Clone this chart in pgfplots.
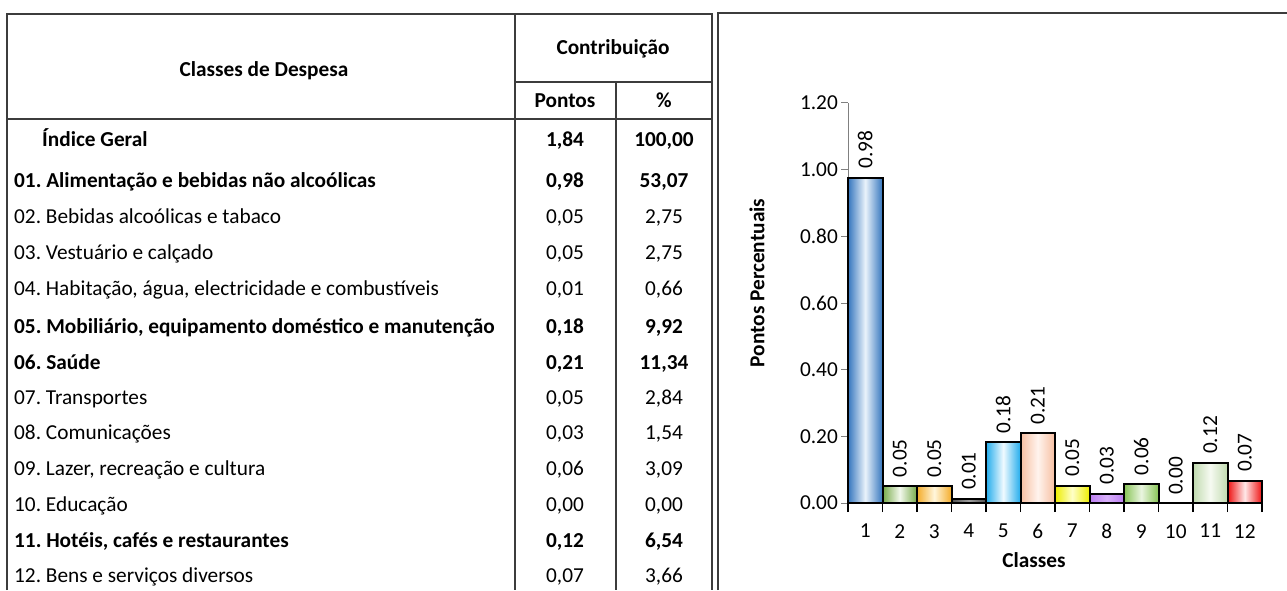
\documentclass[border=0pt]{standalone}
\usepackage{pgfplots}
\pgfplotsset{compat=1.18}
\usepackage{fontspec}
\setmainfont{Carlito}
\newcommand\fs{\fontsize{21.3}{25}\selectfont}
\definecolor{ln}{HTML}{3C3C3C}
\definecolor{c1}{HTML}{3576BE}\definecolor{m1}{HTML}{EAF3FB}
\definecolor{c2}{HTML}{76AA48}\definecolor{m2}{HTML}{F2F8EC}
\definecolor{c3}{HTML}{F4AC2A}\definecolor{m3}{HTML}{FFF6DC}
\definecolor{c4}{HTML}{505050}\definecolor{m4}{HTML}{A0A0A0}
\definecolor{c5}{HTML}{22ACEC}\definecolor{m5}{HTML}{F0FAFF}
\definecolor{c6}{HTML}{F7BEA0}\definecolor{m6}{HTML}{FFF4EE}
\definecolor{c7}{HTML}{EDED00}\definecolor{m7}{HTML}{FFFFC8}
\definecolor{c8}{HTML}{BC7EF2}\definecolor{m8}{HTML}{D8B0FA}
\definecolor{c9}{HTML}{88C456}\definecolor{m9}{HTML}{EAF5E0}
\definecolor{c11}{HTML}{C0DAAE}\definecolor{m11}{HTML}{F6FAF2}
\definecolor{c12}{HTML}{EE1111}\definecolor{m12}{HTML}{FFE8E8}
\newcommand\row[4]{%
  \node[anchor=base west] at (14,{583.5-#1}) {#2};
  \node[anchor=base] at (565,{583.5-#1}) {#3};
  \node[anchor=base] at (664,{583.5-#1}) {#4};}
\newcommand\brow[4]{%
  \node[anchor=base west,font=\fs\bfseries] at (14,{583.5-#1}) {#2};
  \node[anchor=base,font=\fs\bfseries] at (565,{583.5-#1}) {#3};
  \node[anchor=base,font=\fs\bfseries] at (664,{583.5-#1}) {#4};}
\begin{document}
\frenchspacing
\begin{tikzpicture}[x=1pt,y=1pt,every node/.style={inner sep=0pt,font=\fs}]
\useasboundingbox (0,0) rectangle (1287,590);
% table lines
\begin{scope}[draw=ln,line width=2pt]
\draw (7,0) -- (7,576) -- (712,576) -- (712,0);
\draw (515,576) -- (515,0);
\draw (616,508) -- (616,0);
\draw (515,508) -- (712,508);
\draw (7,471) -- (712,471);
\draw (718,0) -- (718,577) -- (1287,577);
\end{scope}
% header
\node[anchor=base,font=\fs\bfseries] at (264,{583.5-70}) {Classes de Despesa};
\node[anchor=base,font=\fs\bfseries] at (613,{583.5-48}) {Contribuição};
\node[anchor=base,font=\fs\bfseries] at (565,{583.5-101}) {Pontos};
\node[anchor=base,font=\fs\bfseries] at (664,{583.5-101}) {\%};
% rows
\node[anchor=base west,font=\fs\bfseries] at (42,{583.5-140}) {Índice Geral};
\node[anchor=base,font=\fs\bfseries] at (565,{583.5-140}) {1,84};
\node[anchor=base,font=\fs\bfseries] at (664,{583.5-140}) {100,00};
\brow{181}{01. Alimentação e bebidas não alcoólicas}{0,98}{53,07}
\row{217}{02. Bebidas alcoólicas e tabaco}{0,05}{2,75}
\row{253}{03. Vestuário e calçado}{0,05}{2,75}
\row{289}{04. Habitação, água, electricidade e combustíveis}{0,01}{0,66}
\brow{327}{05. Mobiliário, equipamento doméstico e manutenção}{0,18}{9,92}
\brow{363}{06. Saúde}{0,21}{11,34}
\row{398}{07. Transportes}{0,05}{2,84}
\row{433}{08. Comunicações}{0,03}{1,54}
\row{469}{09. Lazer, recreação e cultura}{0,06}{3,09}
\row{505}{10. Educação}{0,00}{0,00}
\brow{541}{11. Hotéis, cafés e restaurantes}{0,12}{6,54}
\row{576}{12. Bens e serviços diversos}{0,07}{3,66}
% chart
\begin{axis}[
  at={(848pt,87pt)}, anchor=south west, scale only axis,
  width=414pt, height=400pt,
  xmin=0.5, xmax=12.5, ymin=0, ymax=1.2,
  /pgf/number format/assume math mode=true,
  axis x line*=bottom, axis y line*=left,
  x axis line style={black,line width=1.5pt,-},
  y axis line style={gray,line width=1pt,-},
  tick align=outside,
  major tick length=7pt, minor tick length=9pt,
  xtick={1,...,12},
  xticklabels={1,2,3,4,5,6,7,8,9,10,11,12},
  minor xtick={0.5,1.5,...,12.5},
  major x tick style={draw=none},
  minor x tick style={black,line width=1.5pt},
  ytick={0,0.2,0.4,0.6,0.8,1.0,1.2},
  yticklabels={0.00,0.20,0.40,0.60,0.80,1.00,1.20},
  y tick style={gray,line width=1pt},
  tick label style={font=\fs},
  xticklabel style={yshift=-14pt},
  yticklabel style={xshift=-3pt},
  xlabel={\bfseries Classes}, ylabel={\bfseries Pontos Percentuais},
  label style={font=\fs},
  xlabel style={at={(axis description cs:0.449,-0.1425)},anchor=center},
  ylabel style={at={(axis description cs:-0.22,0.55)},anchor=center},
  nodes near coords={\pgfmathprintnumber[fixed,fixed zerofill,precision=2]{\pgfplotspointmeta}},
  every node near coord/.append style={font=\fs,rotate=90,anchor=west,inner sep=8pt},
  clip=false,
]
\addplot[ybar,bar width=34.5pt,bar shift=0pt,draw=black,line width=2pt,left color=c1,right color=c1,middle color=m1] coordinates {(1,0.976)};
\addplot[ybar,bar width=34.5pt,bar shift=0pt,draw=black,line width=2pt,left color=c2,right color=c2,middle color=m2] coordinates {(2,0.0506)};
\addplot[ybar,bar width=34.5pt,bar shift=0pt,draw=black,line width=2pt,left color=c3,right color=c3,middle color=m3] coordinates {(3,0.0506)};
\addplot[ybar,bar width=34.5pt,bar shift=0pt,draw=black,line width=2pt,left color=c4,right color=c4,middle color=m4] coordinates {(4,0.0121)};
\addplot[ybar,bar width=34.5pt,bar shift=0pt,draw=black,line width=2pt,left color=c5,right color=c5,middle color=m5] coordinates {(5,0.1825)};
\addplot[ybar,bar width=34.5pt,bar shift=0pt,draw=black,line width=2pt,left color=c6,right color=c6,middle color=m6] coordinates {(6,0.2087)};
\addplot[ybar,bar width=34.5pt,bar shift=0pt,draw=black,line width=2pt,left color=c7,right color=c7,middle color=m7] coordinates {(7,0.0523)};
\addplot[ybar,bar width=34.5pt,bar shift=0pt,draw=black,line width=2pt,left color=c8,right color=c8,middle color=m8] coordinates {(8,0.0283)};
\addplot[ybar,bar width=34.5pt,bar shift=0pt,draw=black,line width=2pt,left color=c9,right color=c9,middle color=m9] coordinates {(9,0.0569)};
\addplot[ybar,bar width=34.5pt,bar shift=0pt,draw=none,fill=none] coordinates {(10,0.0)};
\addplot[ybar,bar width=34.5pt,bar shift=0pt,draw=black,line width=2pt,left color=c11,right color=c11,middle color=m11] coordinates {(11,0.1203)};
\addplot[ybar,bar width=34.5pt,bar shift=0pt,draw=black,line width=2pt,left color=c12,right color=c12,middle color=m12] coordinates {(12,0.0673)};
\end{axis}
\end{tikzpicture}
\end{document}
